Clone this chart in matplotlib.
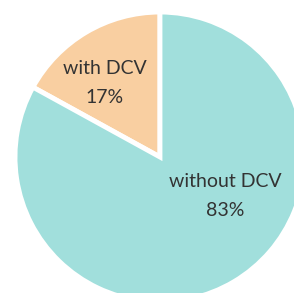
import matplotlib.pyplot as plt

labels = ["with DCV", "without DCV"]
shares = [17, 83]
colors = ["#f9cfa1", "#a1dfdc"]

fig = plt.figure(figsize=(2.94, 2.93), dpi=100)
ax = fig.add_axes([0, 0, 1, 1])

ax.pie(shares, colors=colors, startangle=90, counterclock=True,
       wedgeprops=dict(edgecolor="white", linewidth=3.5))

# labels placed by hand like the original
pos = [(-0.38, 0.51), (0.45, -0.27)]
for (x, y), lab, v in zip(pos, labels, shares):
    ax.text(x, y, f"{lab}\n{v}%", ha="center", va="center", fontsize=14,
            family="Lato", fontweight="normal", color="#333333", linespacing=1.85)

ax.set_xlim(-1.103, 0.924)
ax.set_ylim(-0.938, 1.083)
ax.set_aspect("equal")
ax.axis("off")

fig.savefig("out.png", dpi=100)
